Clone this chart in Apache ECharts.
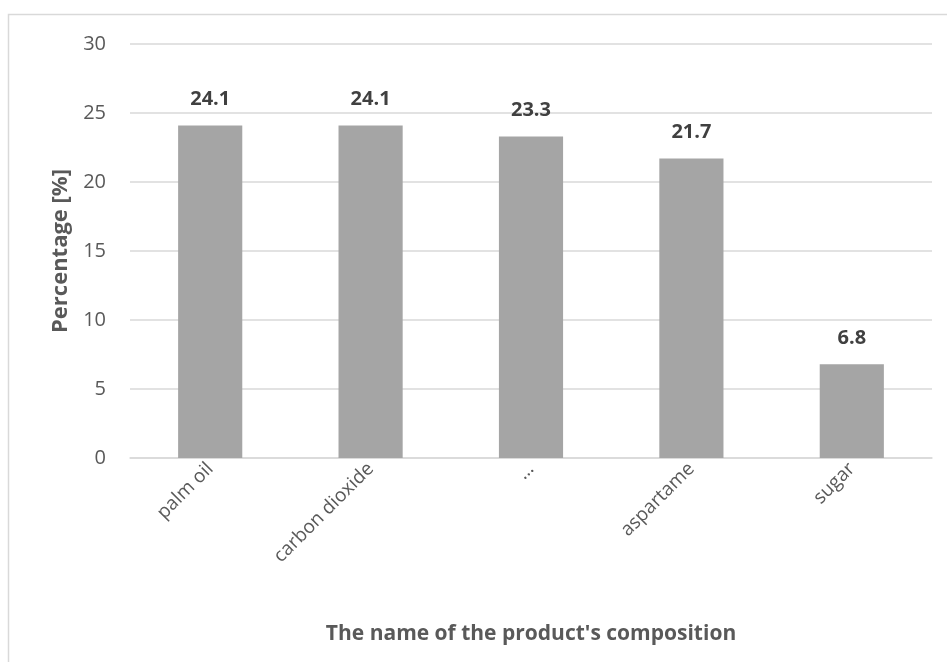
<!DOCTYPE html>
<html>
<head>
<meta charset="utf-8">
<script src="https://cdn.jsdelivr.net/npm/echarts@6/dist/echarts.min.js"></script>
<style>
  html, body { margin: 0; padding: 0; background: #fff; }
  #container { width: 947px; height: 662px; }
</style>
</head>
<body>
<div id="container"></div>
<script>
var categories = ['palm oil', 'carbon dioxide', '\u2026', 'aspartame', 'sugar'];
var values = [24.1, 24.1, 23.3, 21.7, 6.8];
var yTicks = [0, 5, 10, 15, 20, 25, 30];

var dom = document.getElementById('container');
var myChart = echarts.init(dom);
var font = 'Open Sans, Liberation Sans, sans-serif';
var option = {
    animation: false,
    graphic: [{
        type: 'rect',
        shape: { x: 8.5, y: 14.5, width: 960, height: 700 },
        style: { fill: 'none', stroke: '#d9d9d9', lineWidth: 1.5 },
        silent: true
    }],
    grid: { left: 130, right: 15, top: 44, bottom: 204 },
    xAxis: {
        type: 'category',
        data: categories,
        axisTick: { show: false },
        axisLine: { lineStyle: { color: '#d9d9d9', width: 1.5 } },
        axisLabel: {
            rotate: 45,
            color: '#595959',
            fontSize: 19,
            fontFamily: font,
            margin: 8
        },
        name: "The name of the product's composition",
        nameLocation: 'middle',
        nameGap: 166,
        nameTextStyle: { color: '#595959', fontSize: 21, fontWeight: 'bold', fontFamily: font }
    },
    yAxis: {
        type: 'value',
        min: yTicks[0],
        max: yTicks[yTicks.length - 1],
        interval: 5,
        axisLine: { show: false },
        axisTick: { show: false },
        splitLine: { lineStyle: { color: '#d9d9d9', width: 1.5 } },
        axisLabel: { color: '#595959', fontSize: 20, fontFamily: font, margin: 24 },
        name: 'Percentage [%]',
        nameLocation: 'middle',
        nameGap: 57,
        nameTextStyle: { color: '#595959', fontSize: 22, fontWeight: 'bold', fontFamily: font }
    },
    series: [{
        type: 'bar',
        data: values,
        barWidth: '40%',
        itemStyle: { color: '#a5a5a5' },
        label: {
            show: true,
            position: 'top',
            distance: 16,
            color: '#404040',
            fontSize: 20,
            fontWeight: 'bold',
            fontFamily: font
        }
    }]
};
if (option && typeof option === 'object') {
    myChart.setOption(option, true);
}
</script>
</body>
</html>
